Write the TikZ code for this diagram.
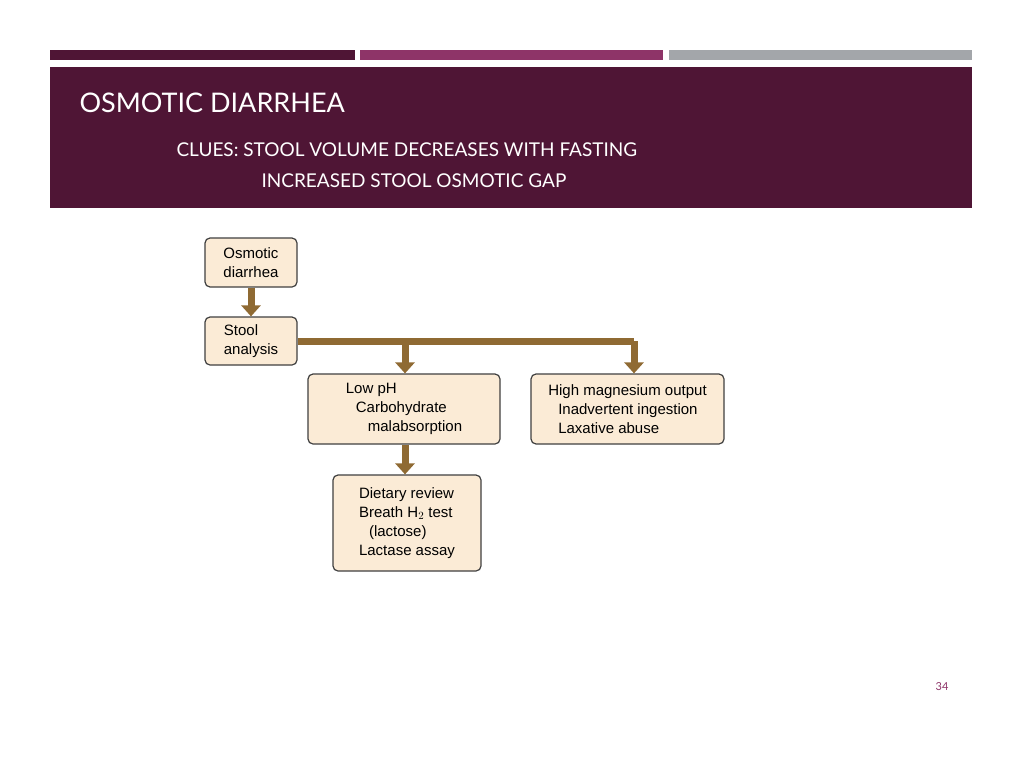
\documentclass[tikz,border=0pt]{standalone}
\usepackage{fontspec}
\setmainfont{Liberation Sans}
\newfontfamily\headfont{Lato}
\usetikzlibrary{arrows.meta}
\definecolor{plum}{HTML}{4F1535}
\definecolor{berry}{HTML}{8E3468}
\definecolor{slate}{HTML}{A3A6AA}
\definecolor{tan}{HTML}{FBEBD6}
\definecolor{bronze}{HTML}{8F6A33}
\begin{document}
\begin{tikzpicture}[x=1pt,y=-1pt]
        \tikzset{stepbox/.style = {draw=black!75,line width=1.2pt,fill=tan,rounded corners=5pt,align=left,font=\fontsize{15}{19}\selectfont,inner sep=0pt}};
        \tikzset{flow/.style = {draw=bronze,line width=7pt,-{Triangle[length=11pt,width=19pt]}}};
        \useasboundingbox (0,0) rectangle (1024,768);
        \fill[white] (0,0) rectangle (1024,768);
        \fill[plum] (50,50) rectangle (355,60);
        \fill[berry] (360,50) rectangle (663,60);
        \fill[slate] (669,50) rectangle (972,60);
        \fill[plum] (50,67) rectangle (972,208);
        \node[anchor=west,text=white,font=\headfont\fontsize{27}{30}\selectfont] (title) at (76,103) {OSMOTIC DIARRHEA};
        \node[anchor=west,text=white,font=\headfont\fontsize{19}{22}\selectfont] (clue1) at (173,150) {CLUES: STOOL VOLUME DECREASES WITH FASTING};
        \node[anchor=west,text=white,font=\headfont\fontsize{19}{22}\selectfont] (clue2) at (258,181) {INCREASED STOOL OSMOTIC GAP};
        \node[stepbox,minimum width=92pt,minimum height=49pt] (a) at (251,262.5) {Osmotic\\diarrhea};
        \node[stepbox,minimum width=92pt,minimum height=48pt] (b) at (251,341) {Stool\\analysis};
        \node[stepbox,minimum width=192pt,minimum height=70pt] (c) at (404,409) {Low pH\\\hspace{10pt}Carbohydrate\\\hspace{22pt}malabsorption};
        \node[stepbox,minimum width=193pt,minimum height=70pt] (d) at (627.5,409) {High magnesium output\\\hspace{10pt}Inadvertent ingestion\\\hspace{10pt}Laxative abuse};
        \node[stepbox,minimum width=148pt,minimum height=96pt] (e) at (407,523) {Dietary review\\Breath H$_2$ test\\\hspace{10pt}(lactose)\\Lactase assay};
        \node[text=berry,font=\headfont\fontsize{11}{13}\selectfont] (page) at (942,687) {34};
        \coordinate (j) at (405,341);
        \coordinate (k) at (634,341);
        \draw[flow] (a) -- (b);
        \draw[draw=bronze,line width=7pt] (b.east) -- (k);
        \draw[flow] (j) -- (j |- c.north);
        \draw[flow] (k) -- (k |- d.north);
        \draw[flow] (c.south -| j) -- (e.north -| j);
    \end{tikzpicture}
\end{document}
